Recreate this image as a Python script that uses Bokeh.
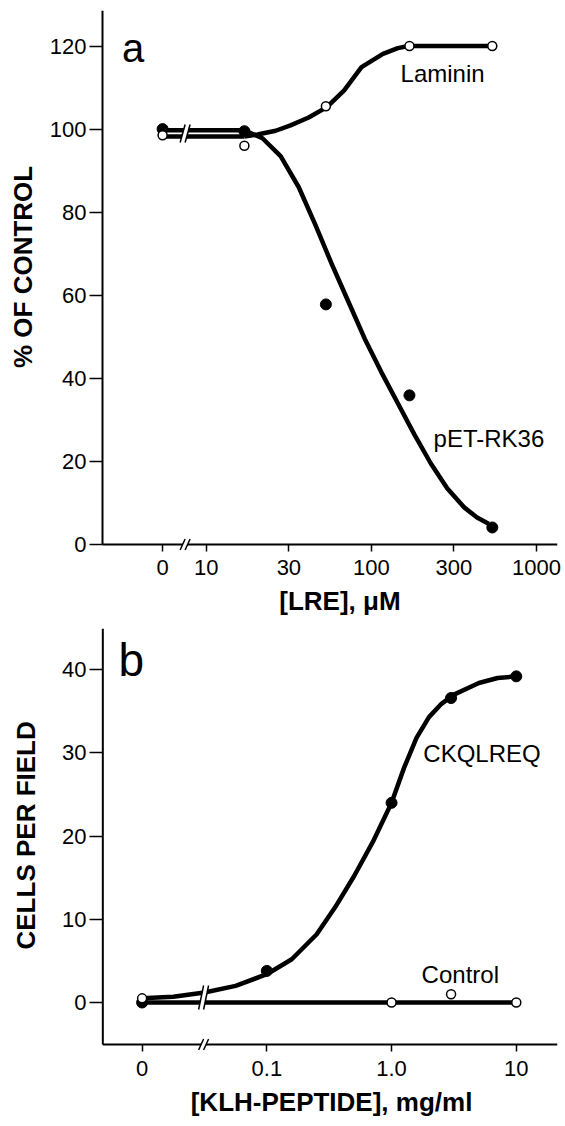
import math
from bokeh.plotting import figure
from bokeh.layouts import column
from bokeh.models import Label, FixedTicker, Range1d, Title
from bokeh.embed import file_html
from bokeh.resources import INLINE

# ---------------- Panel a data ----------------
LRE_CONC = [0, 17, 53, 170, 540]                 # [LRE], uM
LAMININ = [98.5, 96.0, 105.5, 120.0, 120.0]      # % of control
PET_RK36 = [100.0, 99.5, 57.8, 35.9, 4.1]        # % of control
LRE_TICK_LABELS = ["0", "10", "30", "100", "300", "1000"]
Y_TICKS_A = [0, 20, 40, 60, 80, 100, 120]

# hand-drawn fitted curves (x in log10 uM axis units)
LAM_FIT_X = [1.23, 1.31, 1.42, 1.51, 1.62, 1.73, 1.835, 1.94, 2.07, 2.16, 2.225, 2.73]
LAM_FIT_Y = [98.2, 98.7, 99.6, 100.9, 102.8, 105.3, 109.3, 114.9, 118.1, 119.5, 120.0, 120.0]
PET_FIT_X = [1.23, 1.34, 1.45, 1.56, 1.66, 1.76, 1.86, 1.96, 2.06, 2.16, 2.26, 2.36, 2.46, 2.56, 2.64, 2.71]
PET_FIT_Y = [99.7, 97.8, 93.5, 86.0, 77.0, 67.5, 58.5, 49.5, 41.5, 34.0, 26.5, 19.5, 13.5, 9.0, 6.5, 5.0]
LAM_BASE = 98.2
PET_BASE = 99.7

# ---------------- Panel b data ----------------
KLH_CONC = [0, 0.1, 1.0, 3.0, 10.0]              # mg/ml
CKQLREQ = [0.0, 3.8, 24.0, 36.6, 39.2]           # cells per field
CONTROL_CONC = [0, 1.0, 3.0, 10.0]
CONTROL = [0.5, 0.0, 1.0, 0.0]
KLH_TICK_LABELS = ["0", "0.1", "1.0", "10"]
Y_TICKS_B = [0, 10, 20, 30, 40]
CK_FIT_X = [-2.0, -1.75, -1.5, -1.25, -1.0, -0.8, -0.6, -0.45, -0.3, -0.15, 0.0, 0.1, 0.2, 0.3, 0.4, 0.5, 0.7, 0.85, 1.0]
CK_FIT_Y = [0.5, 0.7, 1.2, 2.0, 3.4, 5.2, 8.2, 11.5, 15.2, 19.3, 24.0, 28.2, 31.8, 34.3, 35.9, 37.0, 38.4, 39.0, 39.2]
CTRL_FIT_X = [-2.0, 1.0]
CTRL_FIT_Y = [0.0, 0.0]

FONT = "Liberation Sans"
ZERO_A = 0.735
ZERO_B = -2.0
BREAK_A = 0.8715
BREAK_B = -1.507
LW = 4.5

SCALE = {}


def pos_a(c):
    return ZERO_A if c == 0 else math.log10(c)


def pos_b(c):
    return ZERO_B if c == 0 else math.log10(c)


def make_fig(w, h, xr, yr, bl, br, bt, bb):
    p = figure(width=w, height=h, x_range=Range1d(*xr), y_range=Range1d(*yr),
               output_backend="svg", toolbar_location=None,
               min_border_left=bl, min_border_right=br, min_border_top=bt, min_border_bottom=bb)
    p.outline_line_color = None
    p.grid.visible = False
    p.background_fill_color = "white"
    p.border_fill_color = "white"
    SCALE[id(p)] = ((w - bl - br) / (xr[1] - xr[0]), (h - bt - bb) / (yr[1] - yr[0]))
    return p


def style(p, xticks, xlabels, yticks, xstand):
    for ax in (p.xaxis[0], p.yaxis[0]):
        ax.axis_line_color = None
        ax.major_tick_line_color = "black"
        ax.major_tick_line_width = 1.5
        ax.minor_tick_line_color = None
        ax.major_label_text_font = FONT
        ax.major_label_text_font_size = "22px"
        ax.major_label_text_color = "black"
    p.xaxis.ticker = FixedTicker(ticks=xticks)
    p.xaxis.major_label_overrides = {t: l for t, l in zip(xticks, xlabels)}
    p.xaxis.major_tick_in = 7
    p.xaxis.major_tick_out = 0
    p.xaxis.major_label_standoff = xstand
    p.yaxis.ticker = FixedTicker(ticks=yticks)
    p.yaxis.major_tick_in = 3
    p.yaxis.major_tick_out = 10
    p.yaxis.major_label_standoff = 3


def draw_axes(p, x0, x1, y0, y1):
    p.segment(x0=[x0, x0], y0=[y0, y0], x1=[x1, x0], y1=[y0, y1], line_color="black", line_width=2)


def brk(p, u, y, h):
    s, g = 2.5, 2.5
    pxu, pxy = SCALE[id(p)]
    xs = [u + (-g - s) / pxu, u + (-g + s) / pxu, u + (g + s) / pxu, u + (g - s) / pxu]
    ys = [y - h / 2 / pxy, y + h / 2 / pxy, y + h / 2 / pxy, y - h / 2 / pxy]
    p.patch(xs, ys, fill_color="white", line_color=None)
    p.segment(x0=[xs[0], xs[3]], y0=[ys[0], ys[3]], x1=[xs[1], xs[2]], y1=[ys[1], ys[2]],
              line_color="black", line_width=1.5)


def txt(p, x, y, t, size):
    p.add_layout(Label(x=x, y=y, text=t, text_font=FONT, text_font_size=size,
                       text_color="black", text_align="center", text_baseline="middle"))


def spacer(p, loc, gap):
    p.add_layout(Title(text=" ", text_font_size="1px", standoff=gap), loc)


def title(p, t, loc, offset, valign):
    p.add_layout(Title(text=t, align="left", offset=offset, standoff=0, vertical_align=valign,
                       text_font=FONT, text_font_size="26px", text_font_style="bold",
                       text_color="black"), loc)


# ================= Panel a =================
XA = (0.3528, 3.1273)
YA = (-1.685, 128.55)
AXA_X = 0.371
pa = make_fig(565, 623, XA, YA, 97, 8, 10, 72)
style(pa, [ZERO_A, 1.0, 1.5, 2.0, 2.5, 3.0], LRE_TICK_LABELS, Y_TICKS_A, 8)
draw_axes(pa, AXA_X, XA[1], 0.0, YA[1])
brk(pa, BREAK_A, 0.0, 11)

xa = [pos_a(c) for c in LRE_CONC]
pa.line([ZERO_A, LAM_FIT_X[0]], [LAM_BASE, LAM_BASE], line_color="black", line_width=LW)
pa.line([ZERO_A, PET_FIT_X[0]], [PET_BASE, PET_BASE], line_color="black", line_width=LW)
pa.line(LAM_FIT_X, LAM_FIT_Y, line_color="black", line_width=LW, line_join="round")
pa.line(PET_FIT_X, PET_FIT_Y, line_color="black", line_width=LW, line_join="round")
brk(pa, BREAK_A, (LAM_BASE + PET_BASE) / 2, 18)
pa.scatter(xa, PET_RK36, marker="circle", size=11, color="black")
pa.scatter(xa, LAMININ, marker="circle", size=9, fill_color="white", line_color="black", line_width=1.5)

txt(pa, 0.556, 119.5, "a", "40px")
txt(pa, 2.431, 113.5, "Laminin", "24px")
txt(pa, 2.712, 25.6, "pET-RK36", "24px")
spacer(pa, "below", 4.6)
title(pa, "[LRE], \u03bcM", "below", 179.8, "top")
spacer(pa, "left", 5.7)
title(pa, "% OF CONTROL", "left", 183.5, "bottom")

# ================= Panel b =================
XB = (-2.3416, 1.3304)
YB = (-5.889, 44.952)
AXB_X = -2.315
AXB_Y = -5.05
pb = make_fig(565, 503, XB, YB, 99, 7, 5, 75)
style(pb, [ZERO_B, -1.0, 0.0, 1.0], KLH_TICK_LABELS, Y_TICKS_B, 9)
draw_axes(pb, AXB_X, XB[1], AXB_Y, YB[1])
brk(pb, BREAK_B, AXB_Y, 11)

xb = [pos_b(c) for c in KLH_CONC]
xc = [pos_b(c) for c in CONTROL_CONC]
pb.line(CTRL_FIT_X, CTRL_FIT_Y, line_color="black", line_width=LW)
pb.line(CK_FIT_X, CK_FIT_Y, line_color="black", line_width=LW, line_join="round")
brk(pb, BREAK_B, 0.6, 24)
pb.scatter(xb, CKQLREQ, marker="circle", size=11, color="black")
pb.scatter(xc, CONTROL, marker="circle", size=9, fill_color="white", line_color="black", line_width=1.5)

txt(pb, -2.086, 41.2, "b", "46px")
txt(pb, 0.725, 29.9, "CKQLREQ", "24px")
txt(pb, 0.551, 3.4, "Control", "24px")
spacer(pb, "below", 5.1)
title(pb, "[KLH-PEPTIDE], mg/ml", "below", 91.2, "top")
spacer(pb, "left", 15.9)
title(pb, "CELLS PER FIELD", "left", 102.0, "bottom")

layout = column(pa, pb, spacing=0)
open("out.html", "w").write(file_html(layout, INLINE))
